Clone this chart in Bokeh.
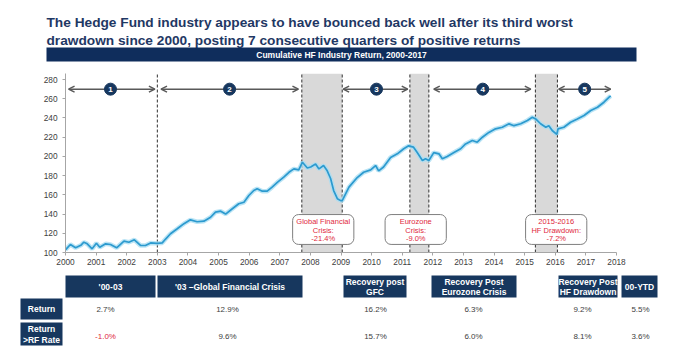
from bokeh.plotting import figure
from bokeh.layouts import column
from bokeh.models import Range1d, Arrow, OpenHead, ColumnDataSource, FixedTicker
from bokeh.core.properties import value
from bokeh.embed import file_html
from bokeh.resources import INLINE

# ---------------- data ----------------
years = [2000.00, 2000.16, 2000.33, 2000.50, 2000.60, 2000.71, 2000.87, 2001.01, 2001.12, 2001.31,
         2001.47, 2001.67, 2001.91, 2002.07, 2002.25, 2002.45, 2002.61, 2002.78, 2003.00, 2003.16,
         2003.27, 2003.43, 2003.65, 2003.87, 2004.08, 2004.30, 2004.52, 2004.74, 2004.90, 2005.07,
         2005.23, 2005.45, 2005.66, 2005.83, 2005.99, 2006.15, 2006.26, 2006.43, 2006.59, 2006.75,
         2006.92, 2007.13, 2007.30, 2007.46, 2007.62, 2007.74, 2007.90, 2008.01, 2008.17, 2008.28,
         2008.43, 2008.55, 2008.66, 2008.76, 2008.88, 2008.99, 2009.04, 2009.26, 2009.53, 2009.74,
         2009.97, 2010.13, 2010.23, 2010.39, 2010.62, 2010.84, 2011.05, 2011.21, 2011.37, 2011.49,
         2011.66, 2011.76, 2011.87, 2012.03, 2012.20, 2012.31, 2012.47, 2012.69, 2012.91, 2013.07,
         2013.29, 2013.45, 2013.62, 2013.83, 2014.05, 2014.27, 2014.49, 2014.65, 2014.87, 2015.09,
         2015.25, 2015.36, 2015.52, 2015.69, 2015.79, 2015.90, 2016.05, 2016.09, 2016.28, 2016.50,
         2016.72, 2016.94, 2017.16, 2017.38, 2017.59, 2017.76, 2017.81]
hf_index = [102.8, 108.3, 104.9, 107.5, 110.7, 109.0, 103.8, 109.7, 105.5, 109.0,
            108.3, 104.9, 111.8, 110.7, 113.2, 107.3, 107.3, 110.0, 109.5, 110.0,
            114.0, 119.5, 124.7, 130.0, 134.0, 132.0, 132.6, 136.7, 142.0, 143.0,
            140.0, 145.5, 150.7, 152.3, 159.3, 164.5, 166.3, 163.8, 163.8, 168.0,
            173.0, 178.4, 183.5, 187.0, 186.0, 194.0, 188.0, 189.0, 192.0, 187.0,
            190.5, 185.0, 177.0, 164.5, 156.0, 154.0, 154.0, 168.0, 178.0, 183.5,
            186.0, 190.5, 185.0, 189.0, 199.0, 202.7, 208.0, 211.0, 209.6, 204.0,
            195.7, 197.5, 195.7, 204.0, 202.7, 197.5, 200.0, 204.0, 208.0, 213.0,
            216.5, 214.8, 220.0, 225.0, 228.7, 230.4, 233.9, 232.0, 234.0, 237.4,
            240.8, 239.0, 234.0, 230.4, 232.0, 227.0, 223.0, 228.7, 230.4, 235.6,
            239.0, 242.6, 247.8, 251.2, 256.4, 261.6, 263.0]

x_ticks = list(range(2000, 2019))
y_ticks = list(range(100, 281, 20))

band_starts = [2007.72, 2011.25, 2015.35]
band_ends = [2009.04, 2011.87, 2016.07]
period_marks = [2003.0]

phase_labels = ["1", "2", "3", "4", "5"]
phase_start = [2000.10, 2003.12, 2009.07, 2012.03, 2016.11]
phase_end = [2002.92, 2007.61, 2011.18, 2015.20, 2017.81]
phase_mid = [2001.47, 2005.36, 2010.16, 2013.63, 2016.96]

crisis_line1 = ["Global Financial", "Eurozone", "2015-2016"]
crisis_line2 = ["Crisis:", "Crisis:", "HF Drawdown:"]
crisis_dd = ["-21.4%", "-9.0%", "-7.2%"]
crisis_center = [2008.42, 2011.44, 2016.03]

title_lines = ["The Hedge Fund industry appears to have bounced back well after its third worst",
               "drawdown since 2000, posting 7 consecutive quarters of positive returns"]
banner_text = "Cumulative HF Industry Return, 2000-2017"

col_headers_1 = ["'00-03", "'03 \u2013Global Financial Crisis", "Recovery post", "Recovery Post", "Recovery Post", "00-YTD"]
col_headers_2 = ["", "", "GFC", "Eurozone Crisis", "HF Drawdown", ""]
row_labels = ["Return", "Return\n>RF Rate"]
return_vals = ["2.7%", "12.9%", "16.2%", "6.3%", "9.2%", "5.5%"]
excess_vals = ["-1.0%", "9.6%", "15.7%", "6.0%", "8.1%", "3.6%"]

# ---------------- styles ----------------
FONT = value("Liberation Sans")
NAVY = "#17375E"
TITLE_C = "#1F3864"
RED = "#E0283C"
GREY_TXT = "#404040"
W = 676


def blank(height, y0, y1):
    f = figure(frame_width=W, frame_height=height, x_range=Range1d(0, W), y_range=Range1d(y0, y1),
               output_backend="svg", toolbar_location=None, min_border=0,
               x_axis_location=None, y_axis_location=None, frame_align=False)
    f.grid.visible = False
    f.outline_line_color = None
    return f


# ---------------- header ----------------
hdr = blank(68, 68, 0)
hdr.text(x=[46, 46], y=[21.5, 40], text=title_lines, text_font=FONT, text_font_style="bold",
         text_font_size="13.7px", text_color=TITLE_C, text_baseline="middle", text_align="left")
hdr.quad(left=[46], right=[636], top=[47], bottom=[61], fill_color="#0F2D5C", line_color=None)
hdr.text(x=[341], y=[54.3], text=[banner_text], text_font=FONT, text_font_style="bold",
         text_font_size="8.5px", text_color="white", text_baseline="middle", text_align="center")

# ---------------- chart ----------------
Y_TOP = 286.3
p = figure(width=W, height=202, x_range=Range1d(2000, 2018), y_range=Range1d(100, Y_TOP),
           output_backend="svg", toolbar_location=None, frame_align=False,
           min_border_left=65, min_border_right=60, min_border_top=5, min_border_bottom=18)
p.grid.visible = False
p.outline_line_color = None
p.background_fill_color = "white"

p.xaxis.ticker = FixedTicker(ticks=x_ticks)
p.yaxis.ticker = FixedTicker(ticks=y_ticks)
for ax in (p.xaxis[0], p.yaxis[0]):
    ax.axis_line_color = "#A6A6A6"
    ax.major_tick_line_color = "#A6A6A6"
    ax.minor_tick_line_color = None
    ax.major_tick_in = 0
    ax.major_tick_out = 3
    ax.major_label_text_font = "Liberation Sans"
    ax.major_label_text_font_size = "8.3px"
    ax.major_label_text_color = GREY_TXT
p.xaxis.major_label_standoff = 3
p.yaxis.major_label_standoff = 5

# shaded drawdown periods
p.quad(left=band_starts, right=band_ends, bottom=100, top=Y_TOP, fill_color="#D9D9D9", line_color=None)
# dashed period separators
sep_x = period_marks + band_starts + band_ends
p.segment(x0=sep_x, y0=100, x1=sep_x, y1=Y_TOP, line_color="#303030", line_width=1, line_dash="3 2")

# index line with soft glow
p.line(years, hf_index, line_color="#A9DDF3", line_width=4.5, line_alpha=0.8)
p.line(years, hf_index, line_color="#2C9ACF", line_width=1.7)

# callout boxes
BOX_HALF = 1.0
p.quad(left=[c - BOX_HALF for c in crisis_center], right=[c + BOX_HALF for c in crisis_center],
       bottom=108.4, top=139.5, fill_color="white", line_color="#7F7F7F", line_width=1,
       border_radius=6)
for txt, yy in ((crisis_line1, 132.0), (crisis_line2, 123.0), (crisis_dd, 114.5)):
    p.text(x=crisis_center, y=yy, text=txt, text_font=FONT, text_font_size="7.5px",
           text_color=RED, text_align="center", text_baseline="middle")

# phase arrows
ARROW_Y = 270
arr_src = ColumnDataSource(dict(x0=phase_start, x1=phase_end, y=[ARROW_Y] * len(phase_start)))
p.add_layout(Arrow(x_start="x0", y_start="y", x_end="x1", y_end="y", source=arr_src,
                   line_color="#595959", line_width=1.5,
                   start=OpenHead(size=6, line_color="#595959", line_width=1.5),
                   end=OpenHead(size=6, line_color="#595959", line_width=1.5)))
c = p.scatter(x=phase_mid, y=[ARROW_Y] * 5, size=12, fill_color=NAVY, line_color=NAVY)
c.level = "overlay"
t = p.text(x=phase_mid, y=[ARROW_Y] * 5, text=phase_labels, text_font=FONT, text_font_style="bold",
           text_font_size="8px", text_color="white", text_align="center", text_baseline="middle")
t.level = "overlay"

# ---------------- table ----------------
tb = blank(80, 350, 270)

cell_left = [65, 157, 343, 431, 558, 621]
cell_right = [155, 302, 406, 516, 617, 657]
val_x = [105, 227, 375, 473, 582, 640]
tb.quad(left=cell_left, right=cell_right, top=275, bottom=297, fill_color=NAVY, line_color=None)
cx = [(a + b) / 2 for a, b in zip(cell_left, cell_right)]
one_line = [i for i, h in enumerate(col_headers_2) if not h]
two_line = [i for i, h in enumerate(col_headers_2) if h]
tb.text(x=[cx[i] for i in one_line], y=286, text=[col_headers_1[i] for i in one_line],
        text_font=FONT, text_font_style="bold", text_font_size="8.5px", text_color="white",
        text_align="center", text_baseline="middle")
tb.text(x=[cx[i] for i in two_line], y=281, text=[col_headers_1[i] for i in two_line],
        text_font=FONT, text_font_style="bold", text_font_size="8.5px", text_color="white",
        text_align="center", text_baseline="middle")
tb.text(x=[cx[i] for i in two_line], y=291.5, text=[col_headers_2[i] for i in two_line],
        text_font=FONT, text_font_style="bold", text_font_size="8.5px", text_color="white",
        text_align="center", text_baseline="middle")

# row labels
tb.quad(left=[20, 20], right=[62, 62], top=[298, 322], bottom=[319, 345], fill_color=NAVY, line_color=None)
rl = row_labels[1].split("\n")
tb.text(x=[41, 41, 41], y=[308.5, 328.5, 339], text=[row_labels[0], rl[0], rl[1]],
        text_font=FONT, text_font_style="bold", text_font_size="8.5px", text_color="white",
        text_align="center", text_baseline="middle")

# values
tb.text(x=val_x, y=308.5, text=return_vals, text_font=FONT, text_font_size="8px",
        text_color=GREY_TXT, text_align="center", text_baseline="middle")
tb.text(x=val_x, y=335.5, text=excess_vals, text_font=FONT, text_font_size="8px",
        text_color=[RED if v.startswith("-") else GREY_TXT for v in excess_vals],
        text_align="center", text_baseline="middle")

layout = column(hdr, p, tb, spacing=0)
open("out.html", "w").write(file_html(layout, INLINE))
